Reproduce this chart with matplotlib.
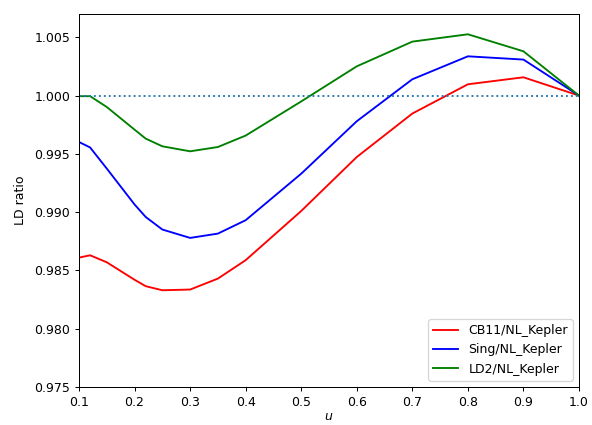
import matplotlib
matplotlib.use('Agg')
import matplotlib.pyplot as plt

# u grid
u = [0.1, 0.12, 0.15, 0.2, 0.22, 0.25, 0.3, 0.35, 0.4, 0.5, 0.6, 0.7, 0.8, 0.9, 1.0]

# LD ratio curves
cb11 = [0.9861, 0.9863, 0.9857, 0.9842, 0.98365, 0.9833, 0.98336, 0.9843, 0.98588,
        0.9901, 0.99473, 0.99846, 1.00097, 1.00157, 1.0]
sing = [0.99602, 0.99555, 0.99374, 0.99066, 0.98959, 0.98851, 0.98779, 0.98816, 0.98931,
        0.9933, 0.9978, 1.0014, 1.00337, 1.00309, 1.0]
ld2 = [0.99995, 0.99995, 0.99902, 0.99708, 0.99631, 0.99565, 0.99522, 0.99559, 0.99657,
       0.9995, 1.00251, 1.00463, 1.00526, 1.0038, 1.0]

labels = ['CB11/NL_Kepler', 'Sing/NL_Kepler', 'LD2/NL_Kepler']

DPI = 90
fig = plt.figure(figsize=(592 / DPI, 425 / DPI), dpi=DPI)
ax = fig.add_axes([79 / 592, 1 - 387 / 425, 500 / 592, (387 - 14) / 425])

ax.plot(u, cb11, color='red', label=labels[0])
ax.plot(u, sing, color='blue', label=labels[1])
ax.plot(u, ld2, color='green', label=labels[2])
ax.axhline(1.0, linestyle=':', color='C0')

ax.set_xlim(0.1, 1.0)
ax.set_ylim(0.975, 1.007)
ax.set_xlabel('$u$', labelpad=1)
ax.set_ylabel('LD ratio', labelpad=6)
ax.legend(loc='lower right')

fig.savefig('out.png', dpi=DPI)
